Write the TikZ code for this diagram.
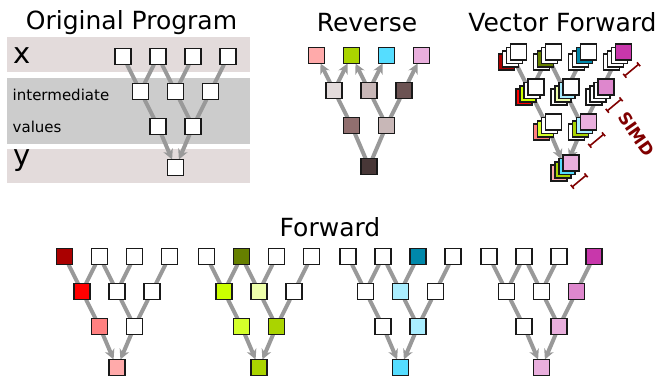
\documentclass[tikz,border=0pt]{standalone}
\usepackage{fontspec}
\setmainfont{DejaVu Sans}
\usetikzlibrary{arrows.meta,calc}
\definecolor{edgegray}{HTML}{999999}
\definecolor{bandpink}{HTML}{E3DBDB}
\definecolor{bandgray}{HTML}{CCCCCC}
\definecolor{dkred}{HTML}{AA0000}
\definecolor{fred}{HTML}{FF0000}
\definecolor{salmon}{HTML}{FF8080}
\definecolor{pinklt}{HTML}{FFAAAA}
\definecolor{olive}{HTML}{668000}
\definecolor{lime}{HTML}{CCFF00}
\definecolor{palelime}{HTML}{EEFFAA}
\definecolor{limeb}{HTML}{D4FF2A}
\definecolor{fgreen}{HTML}{AAD400}
\definecolor{teal}{HTML}{0088AA}
\definecolor{ltblue}{HTML}{AAEEFF}
\definecolor{fcyan}{HTML}{55DDFF}
\definecolor{fmag}{HTML}{C837AB}
\definecolor{orchid}{HTML}{DE87CD}
\definecolor{pinkm}{HTML}{E9AFDD}
\definecolor{rva}{HTML}{E3DBDB}
\definecolor{rvb}{HTML}{C8B7B7}
\definecolor{rvc}{HTML}{6C5353}
\definecolor{rvd}{HTML}{916F6F}
\definecolor{rve}{HTML}{483737}
\definecolor{simdred}{HTML}{800000}
\pgfdeclarelayer{bands}
\pgfdeclarelayer{edges}
\pgfsetlayers{bands,edges,main}
\tikzset{
  sq/.style={rectangle, draw=black!90, line width=1.5pt, fill=white, minimum size=16pt, inner sep=0pt, outer sep=0pt},
  ghost/.style={rectangle, minimum size=17.5pt, inner sep=0pt, outer sep=0pt},
  edge/.style={draw=edgegray, line width=4pt},
  arr/.style={edge, -{Stealth[length=10pt,width=10pt,inset=3pt]}},
  title/.style={font=\fontsize{25}{30}\selectfont, anchor=base, inner sep=0pt},
  biglabel/.style={font=\fontsize{29}{34}\selectfont, anchor=base west, inner sep=0pt},
  smalllabel/.style={font=\fontsize{15}{18}\selectfont, anchor=base west, inner sep=0pt},
  simdbar/.style={draw=simdred, line width=1.6pt, {Bar[width=5pt]}-{Bar[width=5pt]}},
  simdtext/.style={font=\bfseries\fontsize{17}{20}\selectfont, text=simdred, inner sep=0pt, rotate=-55}
}
\def\treepos{x1/0/0,x2/35/0,x3/70/0,x4/105/0,a1/17.5/35,a2/52.5/35,a3/87.5/35,b1/35/70,b2/70/70,y/52.5/111}
\newcommand\drawtree[2]{%
  \foreach \n/\dx/\dy [count=\i] in \treepos {%
    \foreach \c [count=\j] in {#2}{%
      \ifnum\i=\j\relax \node[sq,fill=\c] (#1\n) at (\dx,\dy) {};\fi
    }%
  }%
}
\newcommand\ghosttree[1]{%
  \foreach \n/\dx/\dy in \treepos {\node[ghost] (#1\n) at (\dx,\dy) {};}%
}
\newcommand\lowedges[1]{%
  \draw[edge] (#1a1)--(#1b1) (#1a2)--(#1b2) (#1a3)--(#1b2);
}
\newcommand\upedges[1]{%
  \draw[edge] (#1x1)--(#1a1) (#1x2)--(#1a1) (#1x2)--(#1a2) (#1x3)--(#1a2) (#1x4)--(#1a3);
}
\newcommand\fwdedges[1]{%
  \upedges{#1}\lowedges{#1}%
  \draw[arr] (#1b1)--(#1y); \draw[arr] (#1b2)--(#1y);
}
\begin{document}
\begin{tikzpicture}[x=1pt,y=-1pt]
\useasboundingbox (0,0) rectangle (663,378);
% bands
\begin{pgfonlayer}{bands}
\fill[bandpink] (6.7,36.7) rectangle (250,71.7);
\fill[bandgray] (6.7,77.7) rectangle (250,144.3);
\fill[bandpink] (6.7,149) rectangle (250,183.3);
\end{pgfonlayer}
% titles
\node[title] (tOrig) at (131.5,29.5) {Original Program};
\node[title] (tRev) at (367,31.5) {Reverse};
\node[title] (tVec) at (562.5,31.5) {Vector Forward};
\node[title] (tFwd) at (330,236.5) {Forward};
% band labels
\node[biglabel] (lx) at (13,63.5) {x};
\node[smalllabel] (lint) at (12.5,100) {intermediate};
\node[smalllabel] (lval) at (12.5,132) {values};
\node[biglabel] (ly) at (13,165.5) {y};
% Original program
\begin{scope}[shift={(123,56.5)}]
\drawtree{o}{white,white,white,white,white,white,white,white,white,white}
\end{scope}
% Reverse
\begin{scope}[shift={(316.5,55.5)}]
\drawtree{r}{pinklt,fgreen,fcyan,pinkm,rva,rvb,rvc,rvd,rvb,rve}
\end{scope}
% Forward trees
\begin{scope}[shift={(64.5,256.5)}]
\drawtree{f}{dkred,white,white,white,fred,white,white,salmon,white,pinklt}
\end{scope}
\begin{scope}[shift={(206.5,256.5)}]
\drawtree{g}{white,olive,white,white,lime,palelime,white,limeb,fgreen,fgreen}
\end{scope}
\begin{scope}[shift={(348,256.5)}]
\drawtree{h}{white,white,teal,white,white,ltblue,white,white,ltblue,fcyan}
\end{scope}
\begin{scope}[shift={(489,256.5)}]
\drawtree{k}{white,white,white,fmag,white,white,orchid,white,pinkm,pinkm}
\end{scope}
% Vector forward: ghost mid tree and 4 layers
\begin{scope}[shift={(512.7,57.1)}]
\ghosttree{v}
\end{scope}
\begin{scope}[shift={(506.7,62.2)}]
\drawtree{wa}{dkred,white,white,white,fred,white,white,salmon,white,pinklt}
\end{scope}
\begin{scope}[shift={(510.7,58.8)}]
\drawtree{wb}{white,olive,white,white,lime,palelime,white,limeb,fgreen,fgreen}
\end{scope}
\begin{scope}[shift={(514.7,55.4)}]
\drawtree{wc}{white,white,teal,white,white,ltblue,white,white,ltblue,fcyan}
\end{scope}
\begin{scope}[shift={(518.7,52)}]
\drawtree{wd}{white,white,white,fmag,white,white,orchid,white,pinkm,pinkm}
\end{scope}
% edges
\begin{pgfonlayer}{edges}
\fwdedges{o}
\fwdedges{f}
\fwdedges{g}
\fwdedges{h}
\fwdedges{k}
\fwdedges{v}
\draw[arr] (ra1)--(rx1); \draw[arr] (ra1)--(rx2);
\draw[arr] (ra2)--(rx2); \draw[arr] (ra2)--(rx3);
\draw[arr] (ra3)--(rx4);
\lowedges{r}
\draw[edge] (rb1)--(ry) (rb2)--(ry);
\end{pgfonlayer}
% SIMD markers
\draw[simdbar] ($(wdx4.south east)+(7.5,3.8)$) coordinate (s1) -- +(-15,12.5);
\draw[simdbar] ($(wda3.south east)+(7.5,3.8)$) coordinate (s2) -- +(-15,12.5);
\draw[simdbar] ($(wdb2.south east)+(7.5,3.8)$) coordinate (s3) -- +(-15,12.5);
\draw[simdbar] ($(wdy.south east)+(7.5,3.8)$) coordinate (s4) -- +(-15,12.5);
\node[simdtext] (simd) at (636.5,134.5) {SIMD};
\end{tikzpicture}
\end{document}
